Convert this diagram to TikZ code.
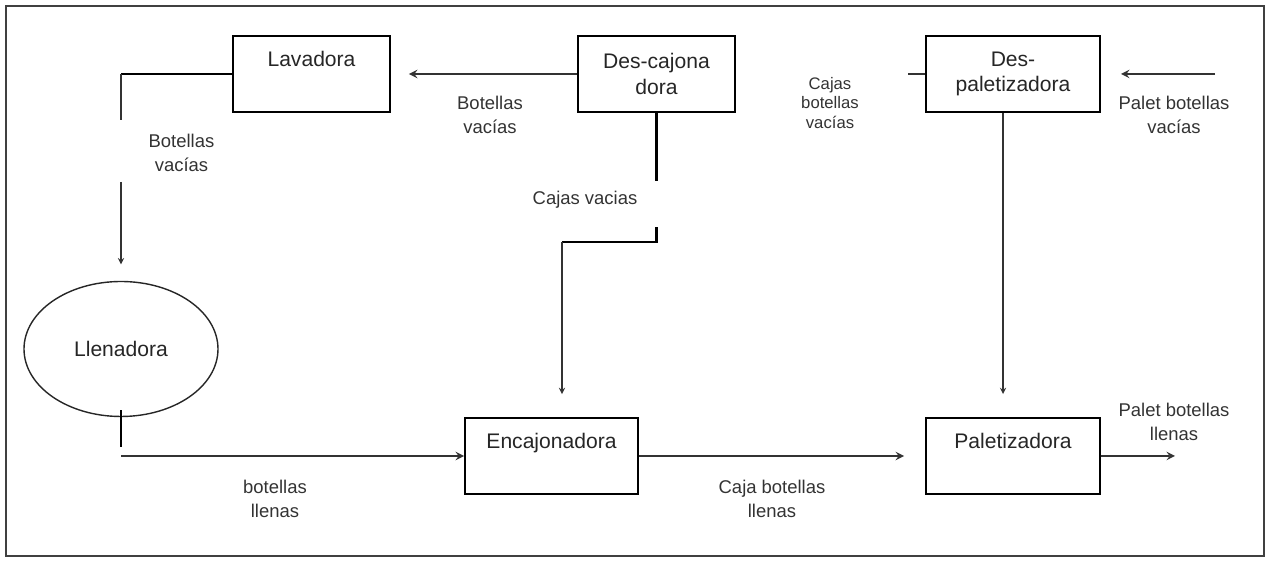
\documentclass[tikz,border=0pt]{standalone}
\usepackage{fontspec}
\setmainfont{Liberation Sans}
\usetikzlibrary{shapes.geometric, arrows}
\definecolor{ink}{HTML}{333333}
\tikzstyle{machine} = [rectangle, 
minimum width=3.14cm, 
minimum height=1.52cm,
line width=1.1pt,
text=black!85,
font=\fontsize{12}{14.7}\selectfont,
text height=0.9em, text depth=1.78em,
draw=black]
\tikzstyle{machinetwo} = [rectangle, 
minimum width=3.14cm, 
minimum height=1.52cm,
line width=1.1pt,
text=black!85,
font=\fontsize{12}{14.7}\selectfont,
align=center,
draw=black]
\tikzstyle{filler} = [ellipse, minimum width=3.88cm, minimum height=2.7cm, inner sep=0pt,
line width=0.8pt, draw=black!85, text=black!85, font=\fontsize{12}{14.7}\selectfont]
\tikzstyle{tag} = [align=center, text=ink, font=\fontsize{10.5}{13.6}\selectfont]
\tikzstyle{flow} = [line width=1.1pt,draw=ink,->,>=stealth]
\tikzstyle{thinflow} = [line width=0.6pt,draw=ink,->,>=stealth]
\tikzstyle{stub} = [line width=1.6pt,draw=black]

\begin{document}
\begin{tikzpicture}[node distance=2cm]
\useasboundingbox (0,0) rectangle (25.4,11.24);
\draw[black!75, line width=0.8pt] (0.12,0.12) rectangle (25.28,11.12);
% machines
\node (lav) [machine] at (6.23,9.76) {Lavadora};
\node (desc) [machinetwo, right of=lav, xshift=4.9cm] {Des-cajona\\dora};
\node (desp) [machinetwo, right of=desc, xshift=5.13cm, minimum width=3.48cm] {Des-\\paletizadora};
\node (llen) [filler] at (2.42,4.26) {Llenadora};
\node (enc) [machine, below of=desc, xshift=-2.1cm, yshift=-5.64cm, minimum width=3.46cm] {Encajonadora};
\node (pal) [machine, below of=desp, yshift=-5.64cm, minimum width=3.48cm] {Paletizadora};
% top row
\draw[flow, shorten >=0.36cm] (desc.west) -- (lav.east);
\node (bv1) [tag] at (9.8,8.94) {Botellas\\vacías};
\draw[flow, -] (desp.west) -- ++(-0.34,0);
\node (cbv) [tag, font=\fontsize{9.5}{11}\selectfont] at (16.6,9.18) {Cajas\\botellas\\vacías};
\coordinate (palin) at (24.3,9.76);
\draw[flow, shorten >=0.4cm] (palin) -- (desp.east);
\node (pbv) [tag] at (23.48,8.94) {Palet botellas\\vacías};
% Lavadora to Llenadora
\draw[stub] (lav.west) -- (lav.west -| llen.north);
\draw[thinflow, shorten >=0.33cm] (lav.west -| llen.north) -- ++(0,-0.92) ++(0,-1.24) -- (llen.north);
\node (bv2) [tag] at (3.63,8.18) {Botellas\\vacías};
% empty crates
\draw[stub] (desc.south) -- ++(0,-1.36);
\coordinate (drop) at ([xshift=0.21cm,yshift=3.5cm]enc.north);
\coordinate (knee) at (drop -| desc.south);
\draw[stub] ([yshift=0.3cm]knee) -- (knee) -- (drop);
\draw[thinflow, shorten >=0.46cm] (drop) -- ([xshift=0.21cm]enc.north);
\node (cv) [tag] at (11.7,7.24) {Cajas vacias};
\draw[thinflow, shorten >=0.46cm] ([xshift=-0.2cm]desp.south) -- ([xshift=-0.2cm]pal.north);
% bottom row
\draw[stub] ([yshift=0.14cm]llen.south) -- ++(0,-0.74);
\draw[flow] (llen.south |- enc.west) -- (enc.west);
\node (bll) [tag] at (5.5,1.26) {botellas\\llenas};
\draw[flow, shorten >=0.42cm] (enc.east) -- (pal.west);
\node (cbl) [tag] at (15.44,1.26) {Caja botellas\\llenas};
\coordinate (palout) at (23.5,2.12);
\draw[flow] (pal.east) -- (palout);
\node (pbl) [tag] at (23.48,2.8) {Palet botellas\\llenas};
\end{tikzpicture}
\end{document}
